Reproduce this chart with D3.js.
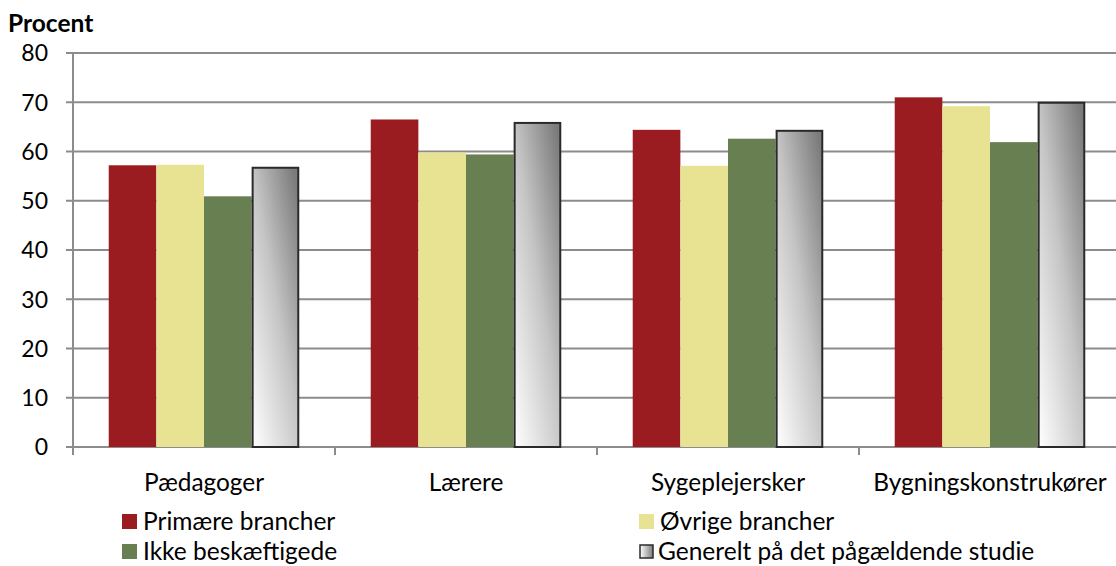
<!DOCTYPE html>
<html>
<head>
<meta charset="utf-8">
<script src="https://cdn.jsdelivr.net/npm/d3@7"></script>
<style>
  body { margin: 0; background: #fff; }
  svg { display: block; font-family: Lato, "Open Sans", sans-serif; }
</style>
</head>
<body>
<svg id="chart" width="1116" height="566"></svg>
<script>
const categories = ["Pædagoger", "Lærere", "Sygeplejersker", "Bygningskonstrukører"];
const seriesNames = ["Primære brancher", "Øvrige brancher", "Ikke beskæftigede", "Generelt på det pågældende studie"];
const primaere = [57.2, 66.5, 64.4, 71.0];
const oevrige = [57.3, 59.8, 57.1, 69.2];
const ikkeBeskaeftigede = [50.9, 59.4, 62.6, 61.9];
const generelt = [56.7, 65.8, 64.2, 69.9];
const yTicks = [0, 10, 20, 30, 40, 50, 60, 70, 80];

const seriesValues = [primaere, oevrige, ikkeBeskaeftigede, generelt];
const colors = ["#9a1c20", "#e8e393", "#677f51", "url(#grayGrad)"];

const svg = d3.select("#chart");
const plotLeft = 73, plotRight = 1121, plotTop = 53, plotBottom = 447;

// gradient for the last series
const defs = svg.append("defs");
const grad = defs.append("linearGradient")
    .attr("id", "grayGrad")
    .attr("x1", 0).attr("y1", 1).attr("x2", 0.9).attr("y2", 0);
grad.append("stop").attr("offset", "0%").attr("stop-color", "#ffffff");
grad.append("stop").attr("offset", "55%").attr("stop-color", "#c4c4c4");
grad.append("stop").attr("offset", "100%").attr("stop-color", "#7b7b7b");

const lgrad = defs.append("linearGradient")
    .attr("id", "legGrad")
    .attr("x1", 0).attr("y1", 0).attr("x2", 1).attr("y2", 0);
lgrad.append("stop").attr("offset", "0%").attr("stop-color", "#ffffff");
lgrad.append("stop").attr("offset", "100%").attr("stop-color", "#7b7b7b");

const x = d3.scaleBand().domain(categories).range([plotLeft, plotRight]).paddingInner(0).paddingOuter(0);
const x1 = d3.scaleBand().domain(d3.range(4)).range([0, x.bandwidth()]).paddingOuter(0.75).paddingInner(0);
const y = d3.scaleLinear().domain([0, 80]).range([plotBottom, plotTop]);

// gridlines
svg.append("g")
  .selectAll("line")
  .data(yTicks)
  .join("line")
    .attr("x1", plotLeft - 7).attr("x2", plotRight)
    .attr("y1", d => y(d)).attr("y2", d => y(d))
    .attr("stroke", "#8c8c8c").attr("stroke-width", 2);

// bars
const groups = svg.append("g")
  .selectAll("g")
  .data(categories)
  .join("g")
    .attr("transform", c => `translate(${x(c)},0)`);

groups.selectAll("rect")
  .data((c, i) => seriesValues.map((s, k) => ({ k: k, v: s[i] })))
  .join("rect")
    .attr("x", d => x1(d.k) + (d.k === 3 ? 1 : 0))
    .attr("width", d => x1.bandwidth() - (d.k === 3 ? 2 : 0))
    .attr("y", d => y(d.v))
    .attr("height", d => y(0) - y(d.v))
    .attr("fill", d => colors[d.k])
    .attr("stroke", d => d.k === 3 ? "#2a2a2a" : "none")
    .attr("stroke-width", 2);

// y axis line
svg.append("line")
  .attr("x1", plotLeft).attr("x2", plotLeft)
  .attr("y1", plotTop).attr("y2", plotBottom + 8)
  .attr("stroke", "#8c8c8c").attr("stroke-width", 2);

// x tick marks
svg.append("g")
  .selectAll("line")
  .data(categories.slice(1))
  .join("line")
    .attr("x1", c => x(c)).attr("x2", c => x(c))
    .attr("y1", plotBottom).attr("y2", plotBottom + 8)
    .attr("stroke", "#8c8c8c").attr("stroke-width", 2);

// y tick labels
svg.append("g")
  .selectAll("text")
  .data(yTicks)
  .join("text")
    .attr("x", 48).attr("y", d => y(d))
    .attr("dy", "0.36em")
    .attr("text-anchor", "end")
    .attr("font-size", 23)
    .attr("fill", "#000")
    .text(d => d);

// category labels
svg.append("g")
  .selectAll("text")
  .data(categories)
  .join("text")
    .attr("x", c => Math.min(x(c) + x.bandwidth() / 2, 992))
    .attr("y", 491)
    .attr("text-anchor", "middle")
    .attr("font-size", 24.4)
    .text(c => c);

// title
svg.append("text")
  .attr("x", 8).attr("y", 32)
  .attr("font-size", 24.5).attr("font-weight", "bold")
  .text("Procent");

// legend
const legPos = [[122, 521], [639, 521], [122, 551], [639, 551]];
const leg = svg.append("g")
  .selectAll("g")
  .data(seriesNames)
  .join("g")
    .attr("transform", (d, i) => `translate(${legPos[i][0]},${legPos[i][1]})`);

leg.append("rect")
  .attr("x", (d, i) => i === 3 ? 1 : 0)
  .attr("y", (d, i) => i === 3 ? -6 : -7)
  .attr("width", (d, i) => i === 3 ? 13 : 15)
  .attr("height", (d, i) => i === 3 ? 13 : 15)
  .attr("fill", (d, i) => i === 3 ? "url(#legGrad)" : colors[i])
  .attr("stroke", (d, i) => i === 3 ? "#2a2a2a" : "none")
  .attr("stroke-width", 1.5);

leg.append("text")
  .attr("x", (d, i) => i === 3 ? 19 : 21)
  .attr("y", 0)
  .attr("dy", "0.35em")
  .attr("font-size", 24.5)
  .text(d => d);
</script>
</body>
</html>
